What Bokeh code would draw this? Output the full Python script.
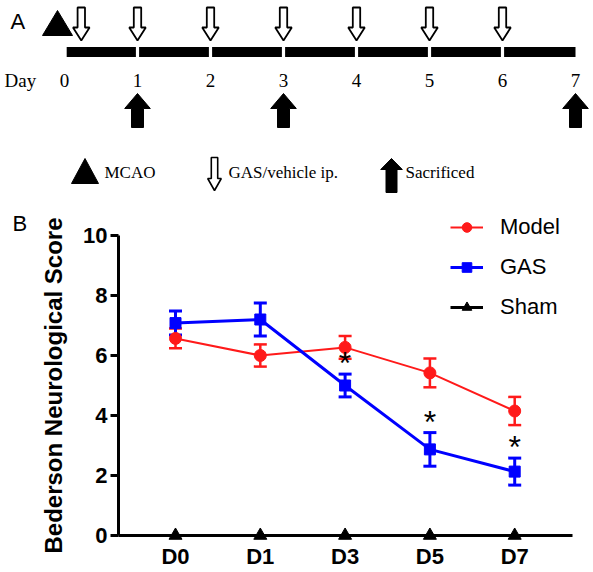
from bokeh.plotting import figure
from bokeh.models import (Range1d, ColumnDataSource, Whisker, TeeHead, Legend,
                          LegendItem, Label, FixedTicker)
from bokeh.layouts import column
from bokeh.embed import file_html
from bokeh.resources import INLINE
from bokeh.core.properties import value

# ---------------- Panel A data (timeline) ----------------
timeline_days = [0, 1, 2, 3, 4, 5, 6, 7]
injection_days = [0.23, 1, 2, 3, 4, 5, 6]
sacrifice_days = [1, 3, 7]
day_labels = ["0", "1", "2", "3", "4", "5", "6", "7"]
legend_a_texts = ["MCAO", "GAS/vehicle ip.", "Sacrificed"]

# ---------------- Panel B data ----------------
days = ["D0", "D1", "D3", "D5", "D7"]
model_mean = [6.57, 6.0, 6.27, 5.42, 4.15]
model_sem = [0.33, 0.37, 0.38, 0.48, 0.47]
gas_mean = [7.08, 7.2, 5.0, 2.87, 2.13]
gas_sem = [0.4, 0.55, 0.38, 0.56, 0.45]
sham_mean = [0, 0, 0, 0, 0]
significant = [False, False, True, True, True]
series_names = ["Model", "GAS", "Sham"]
y_ticks = [0, 2, 4, 6, 8, 10]

SERIF = value("Liberation Serif")
SANS = value("Liberation Sans")

W = 593
# ================= Panel A =================
HA = 195
ORIGIN = 64.0   # px of day 0
STEP = 73.0     # px per day


def px(x):
    """pixel x -> day units (layout helper)"""
    return (x - ORIGIN) / STEP


figA = figure(width=W, height=HA, x_range=Range1d(px(0), px(W)),
              y_range=Range1d(HA, 0), x_axis_type=None, y_axis_type=None,
              output_backend="svg", toolbar_location=None, min_border=0,
              outline_line_color=None)
figA.grid.visible = False

# timeline bar segments
g = 1.6 / STEP
n = len(timeline_days) - 1
lefts = [timeline_days[i] + (0.03 if i == 0 else g) for i in range(n)]
rights = [timeline_days[i + 1] - (0.0 if i == n - 1 else g) for i in range(n)]
figA.quad(left=lefts, right=rights, top=46.5, bottom=56.5, fill_color="black",
          line_color=None)

# hollow injection arrows
sw, hw = 3.7 / STEP, 8.3 / STEP
xs, ys = [], []
for d in injection_days:
    xs.append([d - sw, d + sw, d + sw, d + hw, d, d - hw, d - sw])
    ys.append([7, 7, 27, 27, 40, 27, 27])
figA.patches(xs, ys, fill_color="white", line_color="black", line_width=1.8)

# sacrificed arrows (solid, pointing up)
ssw, shw = 6.0 / STEP, 12.8 / STEP
xs, ys = [], []
for d in sacrifice_days:
    xs.append([d - ssw, d + ssw, d + ssw, d + shw, d, d - shw, d - ssw])
    ys.append([127, 127, 108, 108, 93, 108, 108])
figA.patches(xs, ys, fill_color="black", line_color="black", line_width=1)

# MCAO triangle at start
figA.patch([px(42), px(72), px(57)], [35, 35, 10], fill_color="black", line_color="black")

# day labels
figA.text(x=timeline_days, y=[80] * len(timeline_days), text=day_labels,
          text_font=SERIF, text_font_size="19px", text_align="center",
          text_baseline="alphabetic", text_color="black")
figA.text(x=[px(4)], y=[80], text=["Day"], text_font=SERIF, text_font_size="19px",
          text_align="left", text_baseline="alphabetic", text_color="black")
figA.text(x=[px(10)], y=[21], text=["A"], text_font=SANS, text_font_size="22px",
          text_align="left", text_baseline="alphabetic", text_color="black")

# legend row of panel A
figA.patch([px(71), px(98), px(84.5)], [183, 183, 158], fill_color="black", line_color="black")
c = 214.0
figA.patch([px(c - 3.2), px(c + 3.2), px(c + 3.2), px(c + 6.8), px(c), px(c - 6.8), px(c - 3.2)],
           [157, 157, 178, 178, 190, 178, 178], fill_color="white", line_color="black",
           line_width=1.6)
c = 391.0
figA.patch([px(c - 5.5), px(c + 5.5), px(c + 5.5), px(c + 10.8), px(c), px(c - 10.8), px(c - 5.5)],
           [192, 192, 169, 169, 158, 169, 169], fill_color="black", line_color="black")
figA.text(x=[px(104), px(228), px(405)], y=[172, 172, 172], text=legend_a_texts,
          text_font=SERIF, text_font_size="17px", text_align="left",
          text_baseline="alphabetic", text_color="black")

# ================= Panel B =================
HB = 572 - HA
Y0 = 535.0          # pixel row of value 0
PYU = 30.0          # px per score unit
X0 = 175.0          # pixel column of first category
PXU = 84.8          # px per category step
top_px = HA
bot_px = HA + HB
y_top = (Y0 - top_px) / PYU
y_bot = (Y0 - bot_px) / PYU
x_left_axis = (118 - X0) / PXU
x_right_axis = (572 - X0) / PXU

x_pos = list(range(len(days)))

figB = figure(width=W, height=HB, x_range=Range1d((0 - X0) / PXU, (W - X0) / PXU),
              y_range=Range1d(y_bot, y_top), output_backend="svg",
              toolbar_location=None, min_border=0, outline_line_color=None)
figB.grid.visible = False

RED = "#ff1a1a"
BLUE = "#0000ff"

# Model
src_m = ColumnDataSource(dict(x=x_pos, y=model_mean,
                              upper=[m + s for m, s in zip(model_mean, model_sem)],
                              lower=[m - s for m, s in zip(model_mean, model_sem)]))
figB.add_layout(Whisker(source=src_m, base="x", upper="upper", lower="lower",
                        line_color=RED, line_width=2.5,
                        upper_head=TeeHead(size=13, line_color=RED, line_width=2.5),
                        lower_head=TeeHead(size=13, line_color=RED, line_width=2.5)))
m_line = figB.line("x", "y", source=src_m, line_color=RED, line_width=2.0)
m_pts = figB.scatter("x", "y", source=src_m, marker="circle", size=12,
                     fill_color=RED, line_color=RED)

# GAS
src_g = ColumnDataSource(dict(x=x_pos, y=gas_mean,
                              upper=[m + s for m, s in zip(gas_mean, gas_sem)],
                              lower=[m - s for m, s in zip(gas_mean, gas_sem)]))
figB.add_layout(Whisker(source=src_g, base="x", upper="upper", lower="lower",
                        line_color=BLUE, line_width=3,
                        upper_head=TeeHead(size=13, line_color=BLUE, line_width=3),
                        lower_head=TeeHead(size=13, line_color=BLUE, line_width=3)))
g_line = figB.line("x", "y", source=src_g, line_color=BLUE, line_width=3)
g_pts = figB.scatter("x", "y", source=src_g, marker="square", size=11,
                     fill_color=BLUE, line_color=BLUE)

# Sham
s_line = figB.line(x_pos, sham_mean, line_color="black", line_width=3)
s_pts = figB.scatter(x_pos, sham_mean, marker="triangle", size=13,
                     fill_color="black", line_color="black")

# significance asterisks
ax = [x for x, s in zip(x_pos, significant) if s]
ay = [m + e for m, e, s in zip(gas_mean, gas_sem, significant) if s]
figB.text(x=ax, y=ay, text=["*"] * len(ax), text_font=SANS, text_font_size="32px",
          text_align="center", text_baseline="alphabetic", y_offset=-11,
          text_color="black")

# axes
xa = figB.xaxis[0]
xa.fixed_location = 0
xa.bounds = (x_left_axis, x_right_axis)
xa.ticker = FixedTicker(ticks=x_pos)
xa.major_label_overrides = {i: d for i, d in zip(x_pos, days)}
xa.axis_line_width = 3
xa.axis_line_color = "black"
xa.major_tick_in = 0
xa.major_tick_out = 0
xa.minor_tick_in = 0
xa.minor_tick_out = 0
xa.major_label_standoff = 8
xa.major_label_text_font = "Liberation Sans"
xa.major_label_text_font_size = "22px"
xa.major_label_text_font_style = "bold"
xa.major_label_text_color = "black"

ya = figB.yaxis[0]
ya.fixed_location = x_left_axis
ya.bounds = (0, 10)
ya.ticker = FixedTicker(ticks=y_ticks)
ya.axis_line_width = 3
ya.axis_line_color = "black"
ya.major_tick_line_width = 3
ya.major_tick_line_color = "black"
ya.major_tick_in = 0
ya.major_tick_out = 8
ya.minor_tick_in = 0
ya.minor_tick_out = 0
ya.major_label_standoff = 3
ya.major_label_text_font = "Liberation Sans"
ya.major_label_text_font_size = "22px"
ya.major_label_text_font_style = "bold"
ya.major_label_text_color = "black"
ya.axis_label = "Bederson Neurological Score"
ya.axis_label_text_font = "Liberation Sans"
ya.axis_label_text_font_size = "24px"
ya.axis_label_text_font_style = "bold"
ya.axis_label_text_color = "black"
ya.axis_label_standoff = 13

# legend
legend = Legend(items=[LegendItem(label=series_names[0], renderers=[m_line, m_pts]),
                       LegendItem(label=series_names[1], renderers=[g_line, g_pts]),
                       LegendItem(label=series_names[2], renderers=[s_line, s_pts])],
                location=(450, bot_px - 320), padding=0, margin=0,
                spacing=14, glyph_width=33, glyph_height=24, label_height=24,
                label_standoff=17, label_text_font="Liberation Sans",
                label_text_font_size="22px", label_text_color="black",
                background_fill_alpha=0, border_line_color=None)
figB.add_layout(legend)

figB.add_layout(Label(x=12, y=bot_px - 223, x_units="screen",
                      y_units="screen", text="B", text_font="Liberation Sans",
                      text_font_size="22px", text_baseline="alphabetic",
                      text_color="black"))

layout = column(figA, figB, spacing=0)
open("out.html", "w").write(file_html(layout, INLINE))
